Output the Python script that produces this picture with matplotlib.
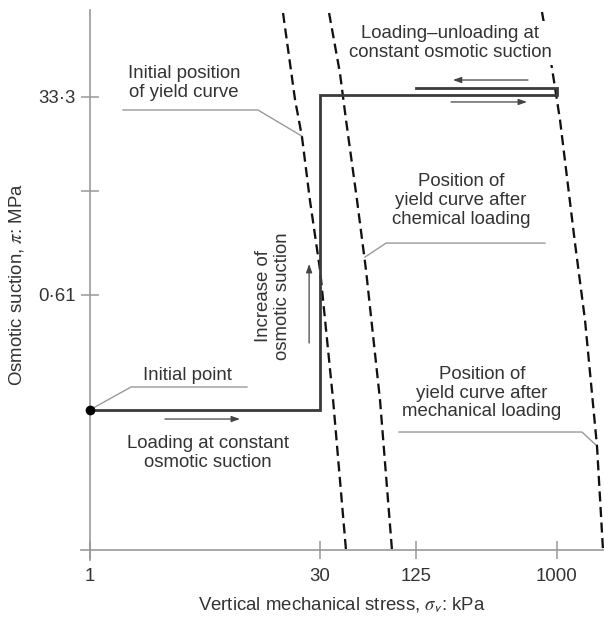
import matplotlib
matplotlib.use("Agg")
import matplotlib.pyplot as plt

plt.rcParams['font.family'] = ['Liberation Sans', 'DejaVu Sans']
plt.rcParams['mathtext.fontset'] = 'stix'

# axis ticks
x_ticks = [1, 30, 125, 1000]
x_tick_labels = ['1', '30', '125', '1000']
y_ticks = [33.3, 5, 0.61]
y_tick_labels = ['33·3', '', '0·61']

# yield curves (sigma_v kPa, pi MPa)
initial_sigma = [17.4, 20.8, 23.0, 25.9, 30.1, 36.5, 44.2]
initial_pi = [181.6, 31.3, 15.1, 4.15, 1.01, 0.0731, 0.0035]
chemical_sigma = [34.4, 40.4, 44.2, 52.0, 59.4, 73.1, 87.3]
chemical_pi = [181.6, 54.0, 20.9, 4.15, 1.01, 0.0731, 0.0035]
mechanical_sigma = [803, 931, 1049, 1309, 1518, 1813, 1982]
mechanical_pi = [185.2, 59.8, 20.9, 1.74, 0.368, 0.0289, 0.0035]

# stress path
path_sigma = [1, 30, 30, 1000, 1000, 125]
path_pi = [0.06, 0.06, 35, 35, 40, 40]
start_sigma = 1
start_pi = 0.06

TXT = '#333333'
GREY = '#999999'
FS = 13.4

fig = plt.figure(figsize=(6.04, 6.21), dpi=100)
ax = fig.add_axes([81 / 604, 61 / 621, 523 / 604, 550 / 621])
ax.set_xscale('log')
ax.set_yscale('log')
ax.set_xlim(0.8753, 2011)
ax.set_ylim(0.002888, 192.9)

for s in ['top', 'right']:
    ax.spines[s].set_visible(False)
ax.spines['left'].set_position(('data', 1))
ax.spines['bottom'].set_position(('data', 0.0035))
for s in ['left', 'bottom']:
    ax.spines[s].set_color(GREY)
    ax.spines[s].set_linewidth(1.2)

ax.minorticks_off()
ax.set_xticks(x_ticks)
ax.set_xticklabels(x_tick_labels)
ax.set_yticks(y_ticks)
ax.set_yticklabels(y_tick_labels)
ax.tick_params(axis='both', direction='inout', length=13, width=1.1,
               color=GREY, labelsize=FS, labelcolor=TXT, pad=4)
ax.tick_params(axis='x', pad=6)

dash = (0, (4.4, 2.4))
for xs, ys in [(initial_sigma, initial_pi), (chemical_sigma, chemical_pi),
               (mechanical_sigma, mechanical_pi)]:
    ax.plot(xs, ys, color='#111111', lw=1.65, linestyle=dash, clip_on=False, zorder=2)

ax.plot(path_sigma, path_pi, color='#3a3a3a', lw=2.0, solid_joinstyle='miter', zorder=3)
ax.plot(start_sigma, start_pi, 'o', color='black', ms=6, clip_on=False, zorder=4)

# arrows
arr = dict(arrowstyle='-|>,head_length=0.5,head_width=0.18', color='#444444', lw=0.9,
           shrinkA=0, shrinkB=0)
ax.annotate('', xy=(215, 46.9), xytext=(653, 46.9), arrowprops=arr)
ax.annotate('', xy=(643, 30.1), xytext=(209, 30.1), arrowprops=arr)
ax.annotate('', xy=(9.2, 0.0498), xytext=(3.03, 0.0498), arrowprops=arr)
ax.annotate('', xy=(25.6, 1.14), xytext=(25.6, 0.231), arrowprops=arr)

# leader lines
lead = dict(color=GREY, lw=1.0, zorder=1)
ax.plot([1.63, 12.0, 23.0], [25.6, 25.6, 15.1], **lead)
ax.plot([58.5, 79.9, 840], [1.31, 1.74, 1.74], **lead)
ax.plot([1, 1.835, 10.2], [0.06, 0.0951, 0.0951], **lead)
ax.plot([96.8, 1452, 1813], [0.0383, 0.0383, 0.0289], **lead)

# labels
tk = dict(fontsize=FS, color=TXT, ha='center', va='center', linespacing=1.15)
ax.text(4.02, 44.2, 'Initial position\nof yield curve', **tk)
ax.text(206, 99.0, 'Loading\u2013unloading at\nconstant osmotic suction', zorder=5,
        bbox=dict(facecolor='white', edgecolor='none', pad=3), **tk)
ax.text(242, 4.15, 'Position of\nyield curve after\nchemical loading', **tk)
ax.text(15.0, 0.598, 'Increase of\nosmotic suction', rotation=90, **tk)
ax.text(4.20, 0.1188, 'Initial point', **tk)
ax.text(5.73, 0.0251, 'Loading at constant\nosmotic suction', **tk)
ax.text(331, 0.0842, 'Position of\nyield curve after\nmechanical loading', **tk)

fig.text(342 / 604, 1 - 605 / 621, r'Vertical mechanical stress, $\sigma_{\mathsf{v}}$: kPa',
         fontsize=FS, color=TXT, ha='center', va='center')
fig.text(17 / 604, 1 - 285 / 621, r'Osmotic suction, $\pi$: MPa',
         fontsize=FS, color=TXT, ha='center', va='center', rotation=90)

fig.savefig('out.png', dpi=100)
